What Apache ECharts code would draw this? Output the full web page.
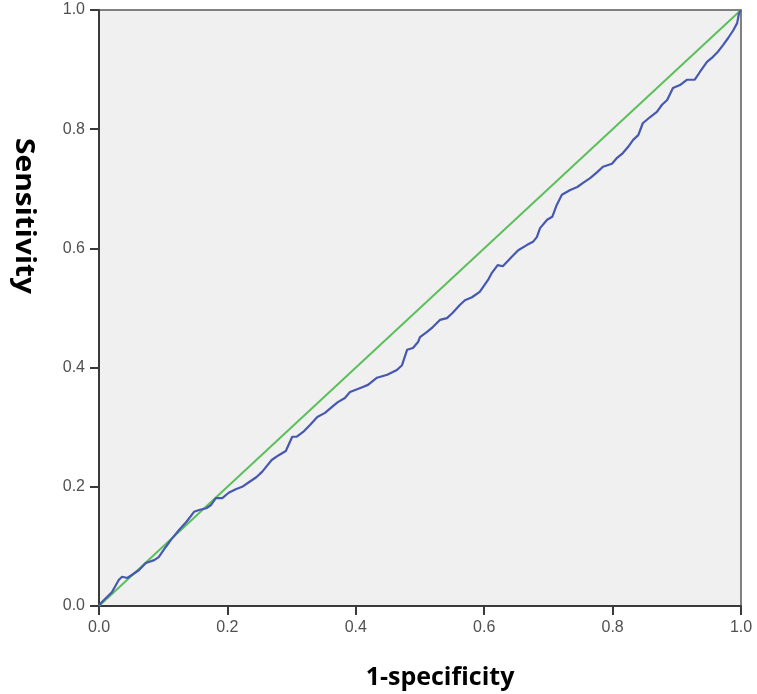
<!DOCTYPE html>
<html>
<head>
<meta charset="utf-8">
<script src="https://cdn.jsdelivr.net/npm/echarts@6/dist/echarts.min.js"></script>
<style>
html,body{margin:0;padding:0;background:#fff;}
#chart{width:757px;height:694px;}
</style>
</head>
<body>
<div id="chart"></div>
<script>
const fpr = [0,0.003,0.020,0.031,0.036,0.044,0.051,0.062,0.073,0.086,0.093,0.104,0.112,0.125,0.136,0.148,0.156,0.167,0.174,0.182,0.192,0.202,0.213,0.223,0.234,0.245,0.254,0.260,0.269,0.280,0.291,0.301,0.308,0.318,0.329,0.340,0.352,0.363,0.372,0.383,0.391,0.403,0.410,0.419,0.433,0.449,0.464,0.472,0.480,0.489,0.497,0.500,0.511,0.520,0.531,0.542,0.551,0.562,0.570,0.581,0.593,0.606,0.612,0.621,0.629,0.643,0.653,0.667,0.676,0.682,0.687,0.698,0.706,0.713,0.721,0.734,0.745,0.754,0.765,0.776,0.785,0.799,0.807,0.816,0.824,0.832,0.840,0.847,0.858,0.869,0.877,0.885,0.894,0.905,0.916,0.928,0.936,0.947,0.956,0.964,0.972,0.980,0.988,0.994,0.997,1];
const tpr = [0,0.005,0.023,0.044,0.049,0.047,0.052,0.060,0.072,0.077,0.082,0.099,0.111,0.128,0.141,0.158,0.161,0.164,0.169,0.181,0.181,0.190,0.196,0.200,0.208,0.216,0.225,0.233,0.245,0.253,0.260,0.284,0.284,0.292,0.304,0.317,0.324,0.334,0.342,0.349,0.359,0.364,0.367,0.371,0.383,0.388,0.396,0.404,0.430,0.433,0.443,0.451,0.460,0.468,0.480,0.483,0.492,0.505,0.513,0.518,0.527,0.547,0.559,0.572,0.570,0.586,0.597,0.606,0.611,0.619,0.634,0.648,0.653,0.673,0.690,0.698,0.703,0.710,0.718,0.728,0.737,0.742,0.752,0.760,0.770,0.782,0.790,0.810,0.820,0.829,0.841,0.849,0.869,0.874,0.883,0.883,0.896,0.913,0.921,0.930,0.941,0.953,0.966,0.978,0.995,1];
const refX = [0, 1];
const refY = [0, 1];
const tickLabels = ['0.0','0.2','0.4','0.6','0.8','1.0'];
const xTitle = '1-specificity';
const yTitle = 'Sensitivity';

const chart = echarts.init(document.getElementById('chart'));
const fmt = v => tickLabels[Math.round(v*5)];
const axisCommon = {
  type: 'value', min: 0, max: 1, interval: 0.2,
  axisLine: {show: true, onZero: false, lineStyle: {color: '#3a3a3a', width: 2}},
  axisTick: {show: true, length: 9, lineStyle: {color: '#3a3a3a', width: 2}},
  splitLine: {show: false},
  axisLabel: {color: '#505050', fontSize: 16, fontFamily: 'Liberation Sans, Arial, sans-serif', formatter: fmt, margin: 14}
};
chart.setOption({
  animation: false,
  grid: {left: 99, top: 10, right: 16, bottom: 88, show: true, backgroundColor: '#f0f0f0', borderColor: '#5a5a5a', borderWidth: 1.5},
  xAxis: Object.assign({}, axisCommon),
  yAxis: Object.assign({}, axisCommon),
  series: [
    {type: 'line', data: refX.map((x,i)=>[x, refY[i]]), showSymbol: false, lineStyle: {color: '#5cbf5c', width: 2}, z: 2},
    {type: 'line', data: fpr.map((x,i)=>[x, tpr[i]]), showSymbol: false, lineStyle: {color: '#4658b0', width: 2.2}, z: 3}
  ],
  graphic: [
    {type: 'text', x: 440, y: 678, style: {text: xTitle, font: 'bold 25px "Open Sans", "DejaVu Sans", sans-serif', fill: '#000', align: 'center', verticalAlign: 'middle'}},
    {type: 'text', x: 23, y: 216, rotation: -Math.PI/2, scaleX: 1.15, style: {text: yTitle, font: 'bold 26px "Open Sans", "DejaVu Sans", sans-serif', fill: '#000', align: 'center', verticalAlign: 'middle'}}
  ]
});
</script>
</body>
</html>
